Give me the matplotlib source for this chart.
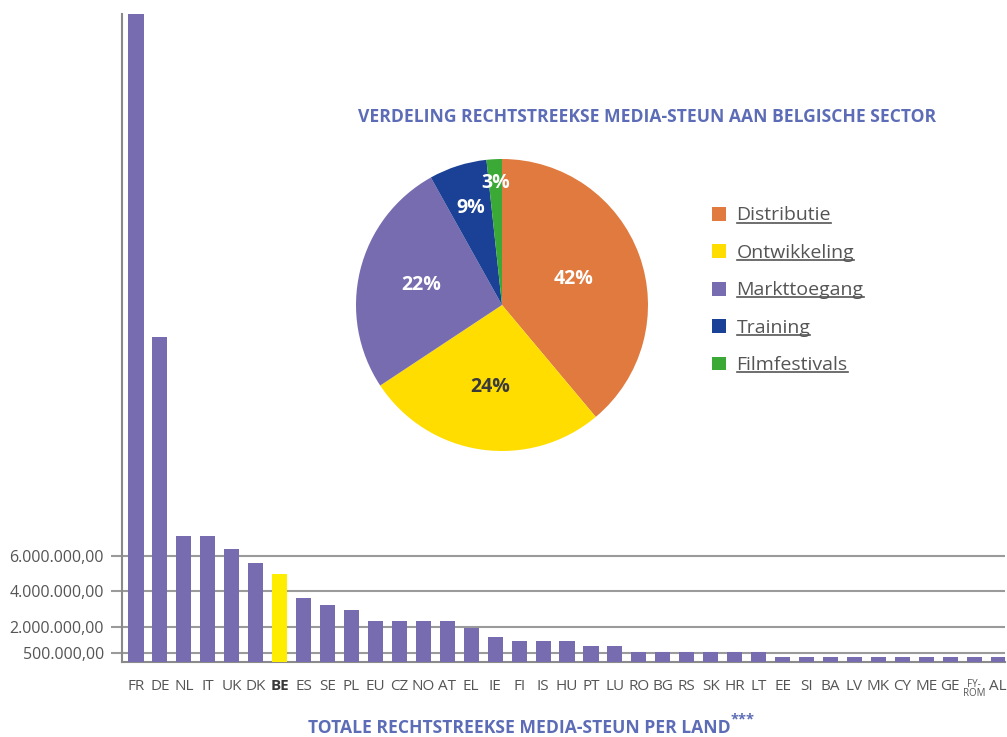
import numpy as np
import matplotlib.pyplot as plt
from matplotlib.patches import Patch
from matplotlib.lines import Line2D
from matplotlib.ticker import FuncFormatter

# bar chart data: direct media support per country (EUR)
countries = ['FR', 'DE', 'NL', 'IT', 'UK', 'DK', 'BE', 'ES', 'SE', 'PL',
             'EU', 'CZ', 'NO', 'AT', 'EL', 'IE', 'FI', 'IS', 'HU', 'PT',
             'LU', 'RO', 'BG', 'RS', 'SK', 'HR', 'LT', 'EE', 'SI', 'BA',
             'LV', 'MK', 'CY', 'ME', 'GE', 'FY-\nROM', 'AL']
support = [37.0e6, 18.35e6, 7.13e6, 7.13e6, 6.4e6, 5.6e6, 4.99e6, 3.6e6, 3.24e6, 2.96e6,
           2.34e6, 2.34e6, 2.34e6, 2.34e6, 1.94e6, 1.43e6, 1.21e6, 1.21e6, 1.21e6, 0.93e6,
           0.93e6, 0.59e6, 0.59e6, 0.59e6, 0.59e6, 0.59e6, 0.59e6, 0.30e6, 0.30e6, 0.30e6,
           0.30e6, 0.30e6, 0.30e6, 0.30e6, 0.30e6, 0.30e6, 0.30e6]
y_ticks = [500000, 2000000, 4000000, 6000000]

# pie data: split for the Belgian sector (wedge sizes as drawn, labels as printed)
categories = ['Distributie', 'Ontwikkeling', 'Markttoegang', 'Training', 'Filmfestivals']
wedge_sizes = [38.9, 26.8, 26.2, 6.4, 1.7]
pct_labels = ['42%', '24%', '22%', '9%', '3%']

purple = '#786cb0'
pie_colors = ['#e07a3e', '#ffdd00', purple, '#1a4196', '#3aa935']
pct_colors = ['white', '#3a3a3a', 'white', 'white', 'white']
label_dist = [0.52, 0.57, 0.57, 0.70, 0.84]
title_blue = '#5c6cb6'
grey_txt = '#555555'

plt.rcParams['font.family'] = ['Open Sans', 'DejaVu Sans']

fig = plt.figure(figsize=(10.07, 7.37), dpi=100)

# --- bar chart ---
ax = fig.add_axes([122 / 1007, 1 - 662 / 737, 883 / 1007, 648 / 737])
x = np.arange(len(countries))
bar_colors = [('#ffed00' if c == 'BE' else purple) for c in countries]
ax.bar(x, support, width=0.63, color=bar_colors, zorder=3)
ax.set_xlim(-0.585, len(countries) - 1 + 0.29)
ax.set_ylim(0, 36.6e6)
ax.set_yticks(y_ticks)
ax.yaxis.set_major_formatter(FuncFormatter(
    lambda v, p: '{:,.2f}'.format(v).replace(',', 'X').replace('.', ',').replace('X', '.')))
ax.grid(axis='y', color='#9a9a9a', lw=1.5, zorder=0)
ax.tick_params(axis='y', length=8, width=1.5, color='#9a9a9a', labelsize=11.5,
               labelcolor=grey_txt, pad=5)
ax.set_xticks(x)
ax.set_xticklabels(countries)
ax.tick_params(axis='x', length=0, labelsize=11, labelcolor=grey_txt, pad=12)
for lbl in ax.get_xticklabels():
    if lbl.get_text() == 'BE':
        lbl.set_fontweight('bold')
        lbl.set_color('#3a3a3a')
    if '\n' in lbl.get_text():
        lbl.set_fontsize(7)
        lbl.set_linespacing(0.85)
for s in ['top', 'right']:
    ax.spines[s].set_visible(False)
for s in ['left', 'bottom']:
    ax.spines[s].set_color('#8a8a8a')
    ax.spines[s].set_linewidth(1.5)

t = fig.text(308 / 1007, 1 - 728 / 737, 'TOTALE RECHTSTREEKSE MEDIA-STEUN PER LAND',
             fontsize=12.6, fontweight='bold', color=title_blue, ha='left', va='center')
ax.annotate('***', xy=(1.0, 0.95), xycoords=t, fontsize=10.5, fontweight='bold',
            color=title_blue, ha='left', va='center', annotation_clip=False)

# --- pie chart ---
pax = fig.add_axes([(502 - 146) / 1007, 1 - (305 + 146) / 737, 292 / 1007, 292 / 737])
wedges, _ = pax.pie(wedge_sizes, colors=pie_colors, startangle=90, counterclock=False,
                    radius=1.0, wedgeprops=dict(linewidth=0))
for w, lab, col, d in zip(wedges, pct_labels, pct_colors, label_dist):
    ang = np.deg2rad((w.theta1 + w.theta2) / 2)
    pax.text(d * np.cos(ang), d * np.sin(ang), lab, ha='center', va='center',
             fontsize=14, fontweight='bold', color=col)
pax.set_xlim(-1, 1)
pax.set_ylim(-1, 1)
pax.set_aspect('equal')

fig.text(647 / 1007, 1 - 117 / 737, 'VERDELING RECHTSTREEKSE MEDIA-STEUN AAN BELGISCHE SECTOR',
         fontsize=12.6, fontweight='bold', color=title_blue, ha='center', va='center')

handles = [Patch(facecolor=c, edgecolor='none') for c in pie_colors]
leg = fig.legend(handles, categories, loc='upper left',
                 bbox_to_anchor=(694 / 1007, 1 - 189 / 737), frameon=False,
                 fontsize=14, handlelength=0.72, handleheight=0.72,
                 handletextpad=0.57, labelspacing=1.0)
for txt in leg.get_texts():
    txt.set_color(grey_txt)

# underline the legend labels
fig.canvas.draw()
for txt in leg.get_texts():
    bb = txt.get_window_extent()
    yl = bb.y0 + 2
    fig.add_artist(Line2D([bb.x0, bb.x1], [yl, yl], transform=None,
                          color=grey_txt, lw=1.2))

fig.savefig('out.png', dpi=100)
